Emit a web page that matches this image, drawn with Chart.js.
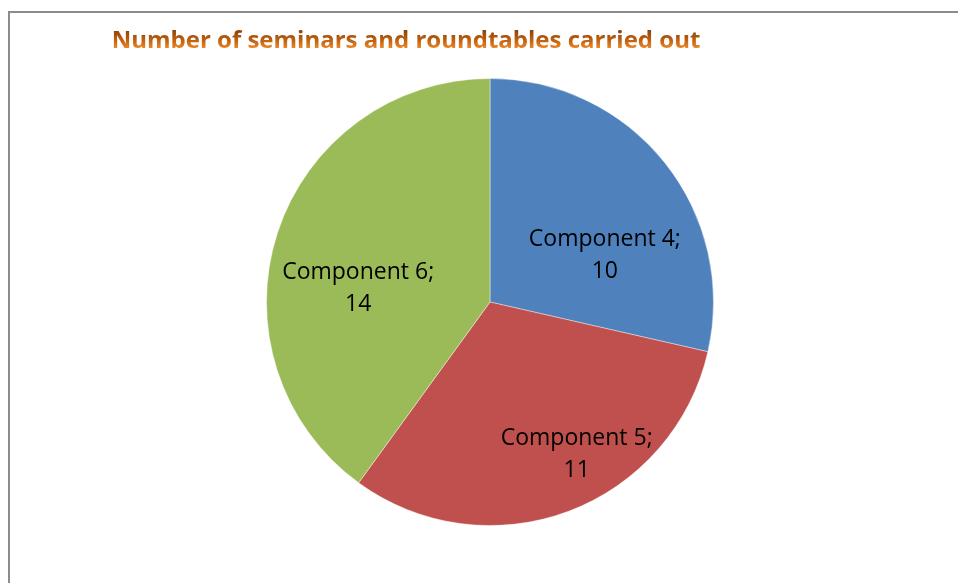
<!DOCTYPE html>
<html>
<head>
<meta charset="utf-8">
<script src="https://cdn.jsdelivr.net/npm/chart.js@4/dist/chart.umd.min.js"></script>
<style>
body{margin:0;background:#fff;overflow:hidden;}
#frame{position:absolute;left:8px;top:11px;width:1000px;height:700px;border-left:2px solid #8c8c8c;border-top:2px solid #8c8c8c;}
#wrap{position:absolute;left:0;top:0;width:958px;height:583px;}
</style>
</head>
<body>
<div id="frame"></div>
<div id="wrap"><canvas id="pieChart"></canvas></div>
<script>

const chartTitle="Number of seminars and roundtables carried out";
const categories=["Component 4","Component 5","Component 6"];
const seminars=[10,11,14];

const sliceColors=["#4f81bd","#c0504d","#9bbb59"];

// where excel put each label: fraction of radius, shift from mid angle (deg)
const labelRadius=[0.555,0.786,0.593];
const labelShift=[16.4,-9,-12];

const gradientTitle={
id:"gradientTitle",
afterDraw(chart){
const ctx=chart.ctx;
ctx.save();
ctx.font="bold 24px 'Open Sans'";
ctx.textAlign="center";
ctx.textBaseline="alphabetic";
const g=ctx.createLinearGradient(0,30,0,50);
g.addColorStop(0,"#8a4208");
g.addColorStop(0.5,"#c0600e");
g.addColorStop(1,"#f5902c");
ctx.fillStyle=g;
ctx.fillText(chartTitle,406,48);
ctx.restore();
}
};

const sliceLabels={
id:"sliceLabels",
afterDatasetsDraw(chart){
const ctx=chart.ctx;
const meta=chart.getDatasetMeta(0);
ctx.save();
ctx.font="23px 'Open Sans'";
ctx.fillStyle="#000";
ctx.textAlign="center";
ctx.textBaseline="middle";
meta.data.forEach((arc,i)=>{
const p=arc.getProps(["x","y","startAngle","endAngle","outerRadius"],true);
const a=(p.startAngle+p.endAngle)/2+labelShift[i]*Math.PI/180;
const r=p.outerRadius*labelRadius[i];
const x=p.x+Math.cos(a)*r;
const y=p.y+Math.sin(a)*r;
ctx.fillText(categories[i]+";",x,y-16);
ctx.fillText(String(seminars[i]),x,y+16);
});
ctx.restore();
}
};

new Chart(document.getElementById("pieChart"),{
type:"pie",
data:{
labels:categories,
datasets:[{
data:seminars,
backgroundColor:sliceColors,
borderColor:"rgba(255,255,255,0.4)",
borderWidth:1
}]
},
options:{
responsive:true,
maintainAspectRatio:false,
animation:false,
layout:{padding:{left:266,right:244,top:78,bottom:57}},
plugins:{
legend:{display:false},
title:{display:false},
tooltip:{enabled:false}
}
},
plugins:[gradientTitle,sliceLabels]
});

</script>
</body>
</html>
